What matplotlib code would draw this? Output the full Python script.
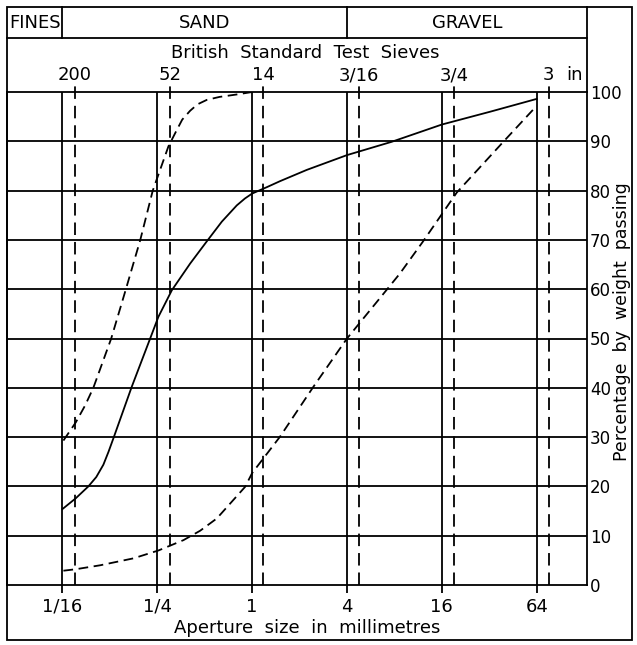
import matplotlib
matplotlib.use("Agg")
import matplotlib.pyplot as plt
from matplotlib.transforms import blended_transform_factory
from matplotlib.patches import Rectangle
from matplotlib.lines import Line2D
from matplotlib.ticker import NullLocator

# grading curves: aperture size (mm) vs % passing
fine_size = [0.0634, 0.0760, 0.087, 0.0982, 0.1275, 0.158, 0.195, 0.234, 0.2944, 0.3326, 0.36,
             0.4041, 0.45, 0.5154, 0.62, 0.799, 1.0]
fine_pass = [29.3, 33.0, 36.4, 40.0, 50.0, 60.0, 70.0, 80.0, 89.0, 92.3, 94.4,
             96.2, 97.5, 98.4, 99.0, 99.5, 100.0]

well_size = [0.0625, 0.0760, 0.0913, 0.1025, 0.1137, 0.1225, 0.1318, 0.1721, 0.2253, 0.2541, 0.3094,
             0.4041, 0.5154, 0.642, 0.799, 0.9, 1.0, 1.24, 1.5, 2.222, 4.0, 7.69, 16.0, 32.4, 64.0]
well_pass = [15.4, 17.6, 20.0, 21.9, 24.4, 27.0, 29.8, 40.2, 50.0, 54.4, 59.8,
             65.2, 69.7, 73.7, 77.0, 78.4, 79.4, 80.7, 81.9, 84.2, 87.2, 89.9, 93.4, 96.0, 98.6]

coarse_size = [0.0634, 0.0760, 0.1085, 0.1761, 0.2541, 0.3665, 0.4673, 0.5968, 0.9018, 1.0, 1.504,
               2.447, 4.0, 6.325, 8.68, 12.1, 19.89, 39.3, 64.0]
coarse_pass = [2.9, 3.2, 4.0, 5.4, 7.0, 9.1, 11.0, 13.5, 19.9, 22.7, 30.1,
               40.2, 50.0, 57.8, 63.2, 69.6, 79.6, 89.9, 97.2]

size_ticks = [1/16, 1/4, 1, 4, 16, 64]
size_labels = ["1/16", "1/4", "1", "4", "16", "64"]

sieve_mm = [0.075, 0.300, 1.18, 4.76, 19.05, 76.2]
sieve_labels = ["200", "52", "14", "3/16", "3/4", "3"]

zone_names = ["FINES", "SAND", "GRAVEL"]
zone_edges = [1/16, 4]

pct_ticks = list(range(0, 101, 10))

W, H = 637, 645
LW = 1.3
plt.rcParams["font.family"] = ["DejaVu Sans"]
plt.rcParams["lines.scale_dashes"] = False
FS = 13


def fx(px):
    return px / W


def fy(py):
    return 1 - py / H


fig = plt.figure(figsize=(W / 100, H / 100), dpi=100)
ax = fig.add_axes([fx(7), fy(585), fx(587) - fx(7), fy(92) - fy(585)])
ax.set_xscale("log", base=2)
ax.set_xlim(0.0278, 133.5)
ax.set_ylim(0, 100)
for sp in ax.spines.values():
    sp.set_linewidth(LW)

# grid
for v in pct_ticks[1:-1]:
    ax.axhline(v, color="k", lw=LW)
for v in size_ticks:
    ax.axvline(v, color="k", lw=LW)
for s in sieve_mm:
    ax.plot([s, s], [0, 101.4], color="k", lw=LW, ls=(0, (9, 5)), clip_on=False)

ax.set_xticks(size_ticks, size_labels)
ax.xaxis.set_minor_locator(NullLocator())
ax.tick_params(axis="x", direction="out", length=6, width=LW, pad=3, labelsize=FS)
ax.yaxis.tick_right()
ax.set_yticks(pct_ticks)
ax.tick_params(axis="y", length=0, pad=2, labelsize=12)

# curves
ax.plot(fine_size, fine_pass, color="k", lw=LW, ls=(0, (7, 4)))
ax.plot(well_size, well_pass, color="k", lw=LW)
ax.plot(coarse_size, coarse_pass, color="k", lw=LW, ls=(0, (7, 4)))

# sieve labels along top
tr = blended_transform_factory(ax.transData, fig.transFigure)
for s, lab in zip(sieve_mm, sieve_labels):
    ax.text(s, fy(75), lab, transform=tr, ha="center", va="center", fontsize=FS)
fig.text(fx(575), fy(75), "in", ha="center", va="center", fontsize=FS)
fig.text(fx(305), fy(53), "British  Standard  Test  Sieves", ha="center", va="center", fontsize=FS)

# header with soil zones
fig.add_artist(Rectangle((fx(7), fy(640)), fx(632) - fx(7), fy(7) - fy(640),
                         transform=fig.transFigure, fill=False, lw=LW, color="k"))
fig.add_artist(Line2D([fx(7), fx(587)], [fy(38), fy(38)], color="k", lw=LW))
fig.add_artist(Line2D([fx(587), fx(587)], [fy(7), fy(92)], color="k", lw=LW))
for e in zone_edges:
    ax.plot([e, e], [fy(7), fy(38)], transform=tr, color="k", lw=LW, clip_on=False)
lo, hi = ax.get_xlim()
bounds = [lo] + zone_edges + [hi]
for i, name in enumerate(zone_names):
    xc = (bounds[i] * bounds[i + 1]) ** 0.5
    ax.text(xc, fy(23), name, transform=tr, ha="center", va="center", fontsize=FS)

fig.text(fx(307), fy(628), "Aperture  size  in  millimetres", ha="center", va="center", fontsize=FS)
fig.text(fx(622), fy(322), "Percentage  by  weight  passing", ha="center", va="center",
         rotation=90, fontsize=12.5)

fig.savefig("out.png", dpi=100)
